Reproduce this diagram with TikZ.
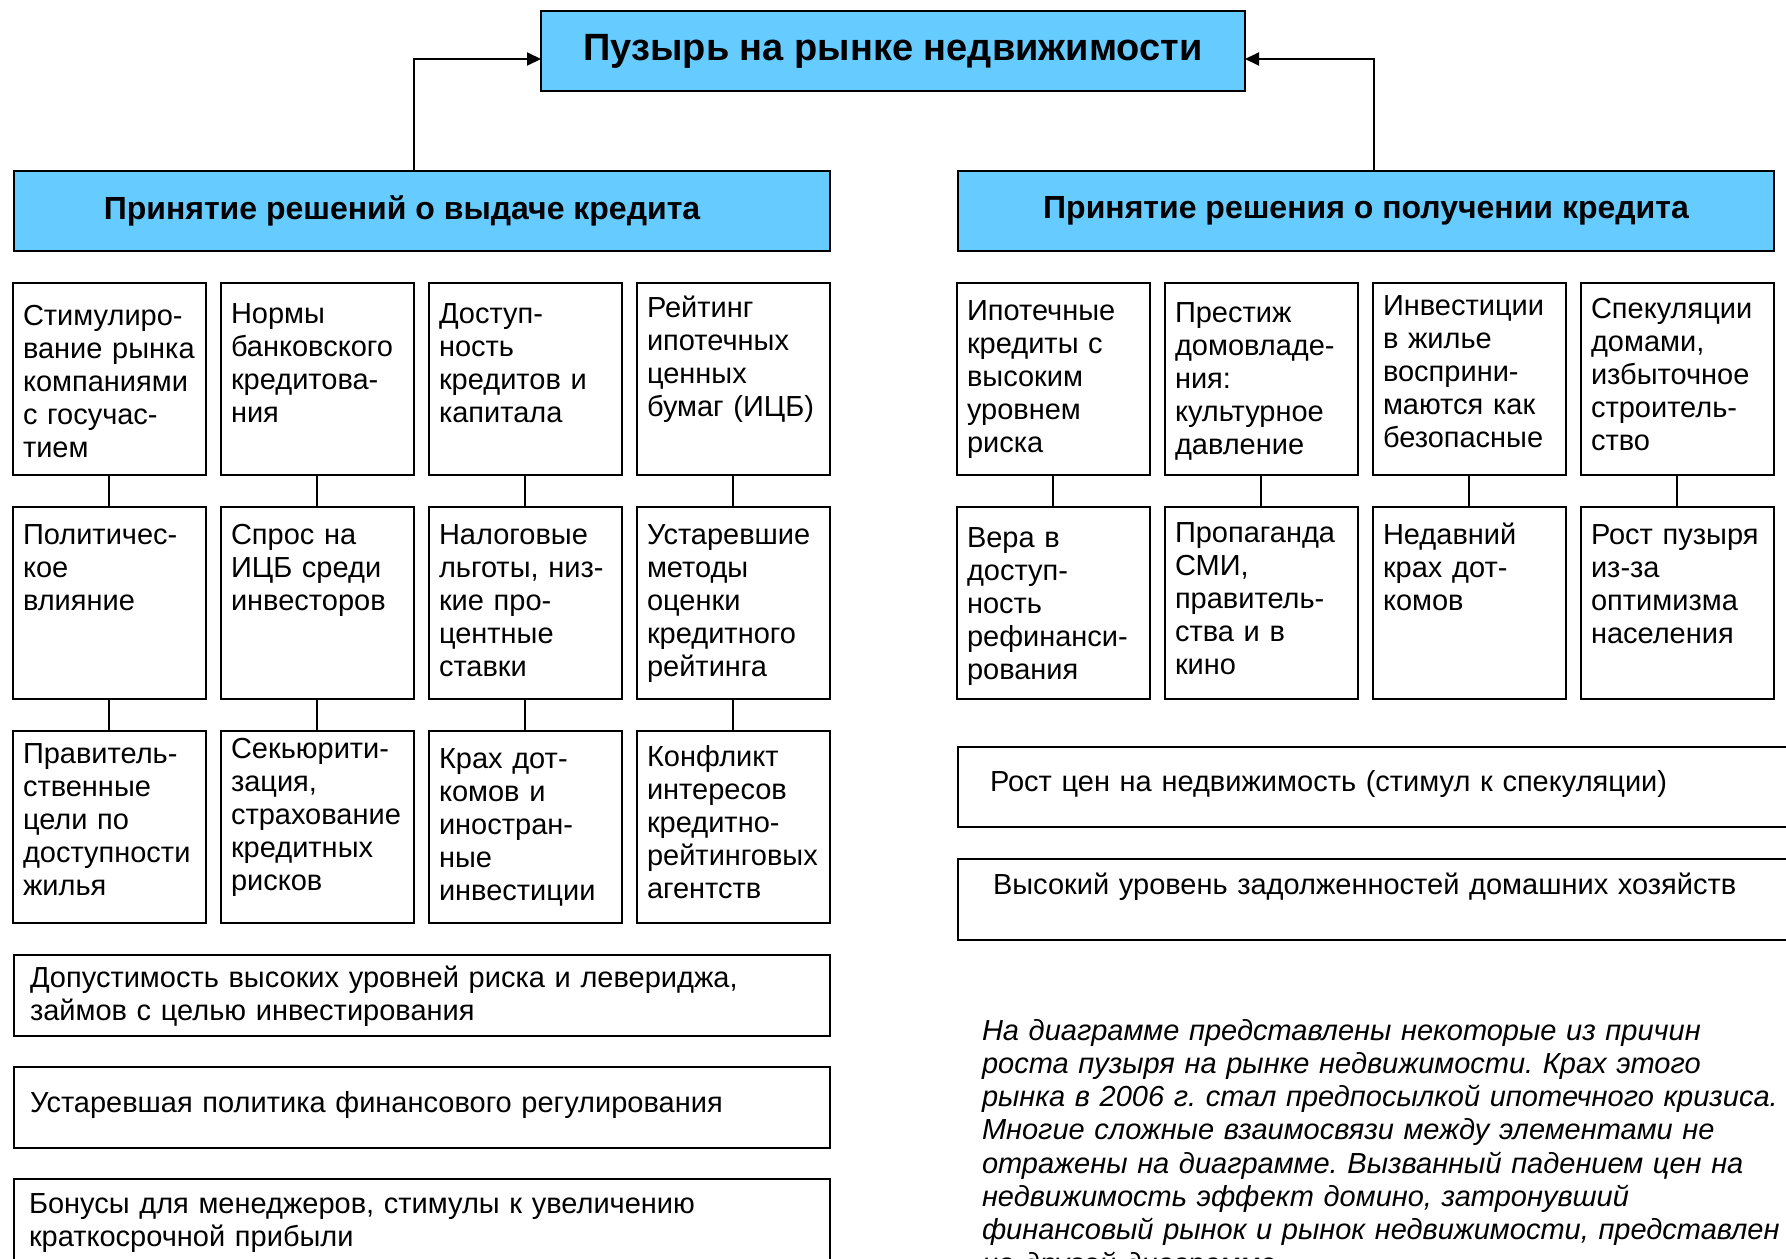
\documentclass[tikz,border=0pt]{standalone}
\usepackage{fontspec}
\setmainfont{Liberation Sans}
\usetikzlibrary{arrows.meta,positioning}
\definecolor{headblue}{RGB}{102,204,255}
\frenchspacing

\begin{document}
\begin{tikzpicture}[x=0.5pt, y=-0.5pt, node distance=16pt and 7.75pt,
  every node/.style={outer sep=0pt},
  head/.style={draw, line width=1pt, fill=headblue, anchor=north west, inner sep=0pt, minimum height=40pt, font=\bfseries\fontsize{16pt}{19pt}\selectfont},
  cell/.style={draw, line width=1pt, anchor=north west, align=left, text width=86.25pt, inner xsep=5pt, inner ysep=0pt, text height=18.5pt, text depth=77.5pt, font=\fontsize{14.5pt}{16.5pt}\selectfont},
  wide/.style={draw, line width=1pt, anchor=north west, align=left, inner ysep=0pt, font=\fontsize{14.5pt}{16.5pt}\selectfont},
  note/.style={anchor=base west, align=left, text width=430pt, inner sep=0pt, font=\itshape\fontsize{14.5pt}{16.65pt}\selectfont},
  >={Triangle[length=7pt, width=6.5pt]}]
\clip (0,0) rectangle (1786,1258);
\fill[white] (0,0) rectangle (1786,1258);

\node[head, minimum width=352pt, font=\bfseries\fontsize{19pt}{22pt}\selectfont] (bubble) at (541,11) {Пузырь на рынке недвижимости};
\node[head, minimum width=408pt] (lhead) at (14,171) {\hspace*{-20pt}Принятие решений о выдаче кредита};
\node[head, minimum width=408pt] (rhead) at (958,171) {Принятие решения о получении кредита};
\draw[->, line width=1pt] ([xshift=-4pt]lhead.north) |- ([yshift=-4pt]bubble.west);
\draw[->, line width=1pt] ([xshift=4pt]rhead.north) |- ([yshift=-4pt]bubble.east);

% выдача кредита
\node[cell, text height=21pt, text depth=75pt] (l11) at (13,283) {Стимулиро-\\вание~рынка\\компаниями\\с~госучас-\\тием};
\node[cell, right=of l11, text height=20pt, text depth=76pt] (l12) {Нормы\\банковского\\кредитова-\\ния};
\node[cell, right=of l12, text height=20pt, text depth=76pt] (l13) {Доступ-\\ность\\кредитов~и\\капитала};
\node[cell, right=of l13, text height=17pt, text depth=79pt] (l14) {Рейтинг\\ипотечных\\ценных\\бумаг~(ИЦБ)};
\node[cell, below=of l11] (l21) {Политичес-\\кое\\влияние};
\node[cell, below=of l12] (l22) {Спрос~на\\ИЦБ~среди\\инвесторов};
\node[cell, below=of l13] (l23) {Налоговые\\льготы,~низ-\\кие~про-\\центные\\ставки};
\node[cell, below=of l14] (l24) {Устаревшие\\методы\\оценки\\кредитного\\рейтинга};
\node[cell, below=of l21, text height=16pt, text depth=80pt] (l31) {Правитель-\\ственные\\цели~по\\доступности\\жилья};
\node[cell, below=of l22, text height=13.5pt, text depth=82.5pt] (l32) {Секьюрити-\\зация,\\страхование\\кредитных\\рисков};
\node[cell, below=of l23] (l33) {Крах~дот-\\комов~и\\иностран-\\ные\\инвестиции};
\node[cell, below=of l24, text height=17.5pt, text depth=78.5pt] (l34) {Конфликт\\интересов\\кредитно-\\рейтинговых\\агентств};
\draw[line width=1pt] (l11) -- (l21) (l12) -- (l22) (l13) -- (l23) (l14) -- (l24);
\draw[line width=1pt] (l21) -- (l31) (l22) -- (l32) (l23) -- (l33) (l24) -- (l34);

\node[wide, text width=392pt, inner xsep=8pt, text height=16pt, text depth=24.5pt] (lever) at (14,955) {Допустимость высоких уровней риска и левериджа,\\займов с целью инвестирования};
\node[wide, text width=392pt, inner xsep=8pt, text height=22.5pt, text depth=18pt] (policy) at (14,1067) {Устаревшая политика финансового регулирования};
\node[wide, text width=393pt, inner xsep=7.5pt, text height=17pt, text depth=24pt] (bonus) at (14,1179) {Бонусы для менеджеров, стимулы к увеличению\\краткосрочной прибыли};

% получение кредита
\node[cell, text height=18.5pt, text depth=77.5pt] (r11) at (957,283) {Ипотечные\\кредиты~с\\высоким\\уровнем\\риска};
\node[cell, right=of r11, text height=19.5pt, text depth=76.5pt] (r12) {Престиж\\домовладе-\\ния:\\культурное\\давление};
\node[cell, right=of r12, text height=16pt, text depth=80pt] (r13) {Инвестиции\\в~жилье\\восприни-\\маются~как\\безопасные};
\node[cell, right=of r13, text height=17.5pt, text depth=78.5pt] (r14) {Спекуляции\\домами,\\избыточное\\строитель-\\ство};
\node[cell, below=of r11, text height=20pt, text depth=76pt] (r21) {Вера~в\\доступ-\\ность\\рефинанси-\\рования};
\node[cell, below=of r12, text height=17.5pt, text depth=78.5pt] (r22) {Пропаганда\\СМИ,\\правитель-\\ства~и~в\\кино};
\node[cell, below=of r13] (r23) {Недавний\\крах~дот-\\комов};
\node[cell, below=of r14] (r24) {Рост~пузыря\\из-за\\оптимизма\\населения};
\draw[line width=1pt] (r11) -- (r21) (r12) -- (r22) (r13) -- (r23) (r14) -- (r24);

\node[wide, text width=418pt, inner xsep=16pt, text height=22pt, text depth=18pt] (prices) at (958,747) {Рост цен на недвижимость (стимул к спекуляции)};
\node[wide, text width=415pt, inner xsep=17.5pt, text height=17.5pt, text depth=23pt] (debt) at (958,859) {Высокий уровень задолженностей домашних хозяйств};

\node[note] (caption) at (982,1040) {На диаграмме представлены некоторые из причин\\роста пузыря на рынке недвижимости. Крах этого\\рынка в 2006 г. стал предпосылкой ипотечного кризиса.\\Многие сложные взаимосвязи между элементами не\\отражены на диаграмме. Вызванный падением цен на\\недвижимость эффект домино, затронувший\\финансовый рынок и рынок недвижимости, представлен\\на другой диаграмме.};
\end{tikzpicture}
\end{document}
